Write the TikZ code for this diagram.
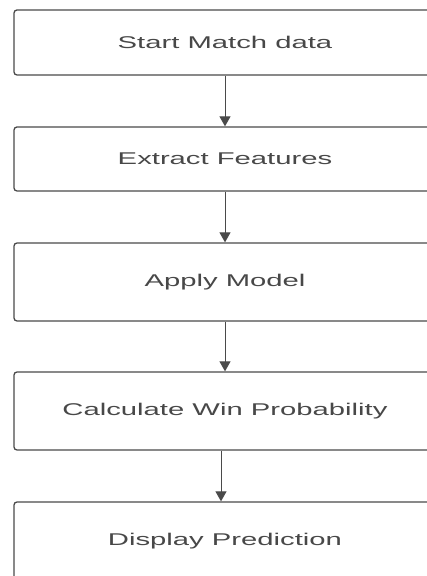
\documentclass[tikz,border=0pt]{standalone}
\usepackage{fontspec}
\usepackage{tikz}
\usetikzlibrary{positioning, calc, arrows.meta}
\newfontfamily\boxfont[FakeStretch=1.72]{Liberation Sans}
\definecolor{boxline}{HTML}{4A4A4A}
\definecolor{boxtext}{HTML}{484848}
\tikzstyle{Arrow} = [
%Create custom arrow style:
line width = 1pt, draw = boxline,
-{Triangle[length = 10pt, width = 11pt]}
]

\begin{document}
\begin{tikzpicture}[
				x = 1pt, y = 1pt,
				stepbox/.style = {rectangle, draw = boxline, line width = 1.3pt, rounded corners = 3pt, text centered, text = boxtext, minimum width = 422pt, inner sep = 0pt, font = \boxfont\fontsize{17}{20}\selectfont},
				shortbox/.style = {stepbox, minimum height = 64pt},
				tallbox/.style = {stepbox, minimum height = 78pt},
			]
			\useasboundingbox (0,0) rectangle (426,576);
			\fill[white] (0,0) rectangle (426,576);

			\node[stepbox, minimum height = 65pt](SM) at (225,533.5){Start Match data};
			\node[shortbox](EF) at (225,417){Extract Features};
			\node[tallbox](AM) at (225,294){Apply Model};
			\node[tallbox](CW) at (225,165){Calculate Win Probability};
			\node[tallbox](DP) at (225,35){Display Prediction};

			\draw[Arrow](SM)--(EF);
			\draw[Arrow](EF)--(AM);
			\draw[Arrow](AM)--(CW);
			\draw[Arrow]([xshift=-4pt]CW.south)--([xshift=-4pt]DP.north);
		\end{tikzpicture}
\end{document}
